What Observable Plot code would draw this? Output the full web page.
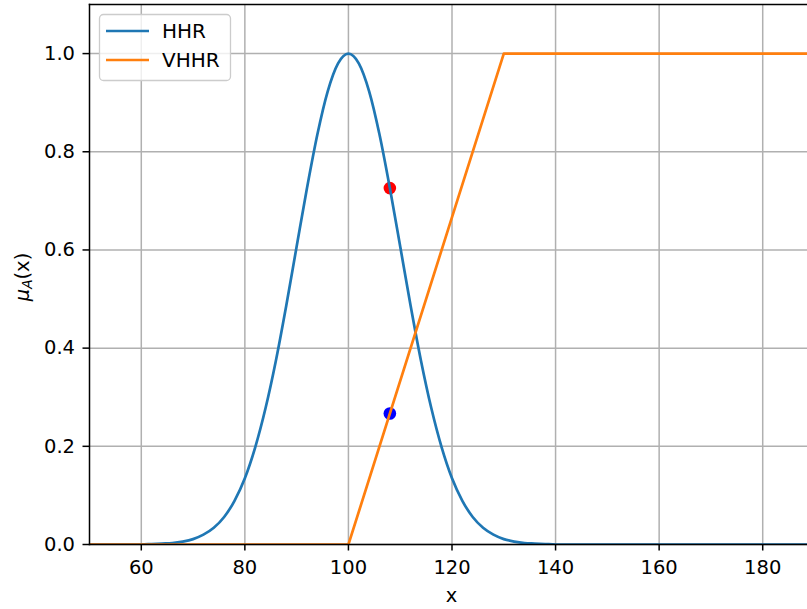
<!DOCTYPE html>
<html>
<head>
<meta charset="utf-8">
<script src="https://cdn.jsdelivr.net/npm/d3@7"></script>
<script src="https://cdn.jsdelivr.net/npm/@observablehq/plot@0.6"></script>
<style>
  html, body { margin: 0; padding: 0; background: #fff; overflow: hidden; }
  #chart { position: relative; width: 807px; height: 609px; overflow: hidden; }
  #chart svg { max-width: none !important; }
</style>
</head>
<body>
<div id="chart"></div>
<script>
// Membership function "HHR" (bell curve around 100)
const hhrX = [50, 60, 62, 64, 66, 68, 70, 72, 74, 76, 78, 80, 82, 84, 86, 88, 90, 92, 94, 96, 98, 100,
  102, 104, 106, 108, 110, 112, 114, 116, 118, 120, 122, 124, 126, 128, 130, 132, 134, 136, 138, 140, 190];
const hhrY = [0, 0.000, 0.001, 0.002, 0.003, 0.006, 0.011, 0.020, 0.034, 0.056, 0.089, 0.135, 0.198, 0.278,
  0.375, 0.487, 0.607, 0.726, 0.835, 0.923, 0.980, 1.000,
  0.980, 0.923, 0.835, 0.726, 0.607, 0.487, 0.375, 0.278, 0.198, 0.135, 0.089, 0.056, 0.034, 0.020,
  0.011, 0.006, 0.003, 0.002, 0.001, 0.000, 0];

// Membership function "VHHR" (ramp from 100 to 130, then flat)
const vhhrX = [50, 100, 130, 190];
const vhhrY = [0, 0, 1, 1];

// Memberships evaluated at x = 108
const dotX = [108, 108];
const dotY = [0.726, 0.267];
const dotColor = ["red", "blue"];

const seriesNames = ["HHR", "VHHR"];
const seriesColors = ["#1f77b4", "#ff7f0e"];

const xTicks = [60, 80, 100, 120, 140, 160, 180];
const yTicks = [0.0, 0.2, 0.4, 0.6, 0.8, 1.0];
const xLimits = [50, 190];
const yLimits = [0, 1.1];

const hhr = hhrX.map((x, i) => ({x, y: hhrY[i]}));
const vhhr = vhhrX.map((x, i) => ({x, y: vhhrY[i]}));
const dots = dotX.map((x, i) => ({x, y: dotY[i], c: dotColor[i]}));

const FONT = 19.5;
const LEGEND_FONT = 20;
const LW = 2.7;
const gridStyle = {stroke: "#b0b0b0", strokeOpacity: 1, strokeWidth: 1.5};

const chart = Plot.plot({
  width: 814,
  height: 609,
  marginLeft: 89,
  marginRight: 0,
  marginTop: 4,
  marginBottom: 65,
  style: {fontFamily: "DejaVu Sans, sans-serif", fontSize: FONT + "px", color: "black", background: "white", maxWidth: "none"},
  x: {domain: xLimits},
  y: {domain: yLimits},
  marks: [
    Plot.gridX(xTicks, gridStyle),
    Plot.gridY(yTicks, gridStyle),
    Plot.dot(dots, {x: "x", y: "y", fill: "c", r: 6.3, stroke: null}),
    Plot.line(hhr, {x: "x", y: "y", stroke: seriesColors[0], strokeWidth: LW, curve: "monotone-x", clip: true}),
    Plot.line(vhhr, {x: "x", y: "y", stroke: seriesColors[1], strokeWidth: LW, clip: true}),
    Plot.frame({anchor: "left", stroke: "black", strokeWidth: 1.5}),
    Plot.frame({anchor: "bottom", stroke: "black", strokeWidth: 1.5}),
    Plot.frame({anchor: "top", stroke: "black", strokeWidth: 1.5}),
    Plot.axisX(xTicks, {tickSize: 6.5, tickPadding: 9, strokeWidth: 1.5, fontSize: FONT, label: null, tickFormat: d3.format("d")}),
    Plot.axisY(yTicks, {tickSize: 6.5, tickPadding: 8, strokeWidth: 1.5, fontSize: FONT, label: null, tickFormat: d3.format(".1f")})
  ]
});
chart.style.maxWidth = "none";
chart.style.width = "814px";
chart.style.height = "609px";

document.getElementById("chart").appendChild(chart);

const svg = d3.select(chart);
const xs = chart.scale("x");
const ys = chart.scale("y");
const xMid = xs.apply((xLimits[0] + xLimits[1]) / 2);
const yMid = ys.apply((yLimits[0] + yLimits[1]) / 2);

function label(sel, size) {
  return sel.attr("text-anchor", "start")
    .style("font-size", size + "px")
    .style("font-family", "DejaVu Sans, sans-serif")
    .attr("fill", "black");
}

// x axis title
label(svg.append("text"), FONT)
  .attr("x", xMid).attr("y", 602)
  .attr("text-anchor", "middle")
  .text("x");

// y axis title: μ_A(x)
const yl = label(svg.append("text"), FONT)
  .attr("transform", `translate(29,${yMid + 3}) rotate(-90)`)
  .attr("text-anchor", "middle");
yl.append("tspan").attr("font-style", "italic").text("μ");
yl.append("tspan").attr("font-style", "italic").style("font-size", (FONT * 0.7) + "px").attr("dy", 3).text("A");
yl.append("tspan").attr("dy", -3).text("(x)");

// legend box, upper left
const lg = svg.append("g").attr("transform", "translate(99,14)");
lg.append("rect")
  .attr("x", 0.5).attr("y", 0.5).attr("width", 131).attr("height", 66)
  .attr("rx", 4).attr("fill", "white").attr("fill-opacity", 0.8)
  .attr("stroke", "#cccccc").attr("stroke-width", 1.3);
seriesNames.forEach((name, i) => {
  const cy = 17 + i * 29;
  lg.append("line")
    .attr("x1", 7).attr("x2", 50).attr("y1", cy).attr("y2", cy)
    .attr("stroke", seriesColors[i]).attr("stroke-width", LW);
  label(lg.append("text"), LEGEND_FONT)
    .attr("x", 63).attr("y", cy + 7)
    .text(name);
});
</script>
</body>
</html>
